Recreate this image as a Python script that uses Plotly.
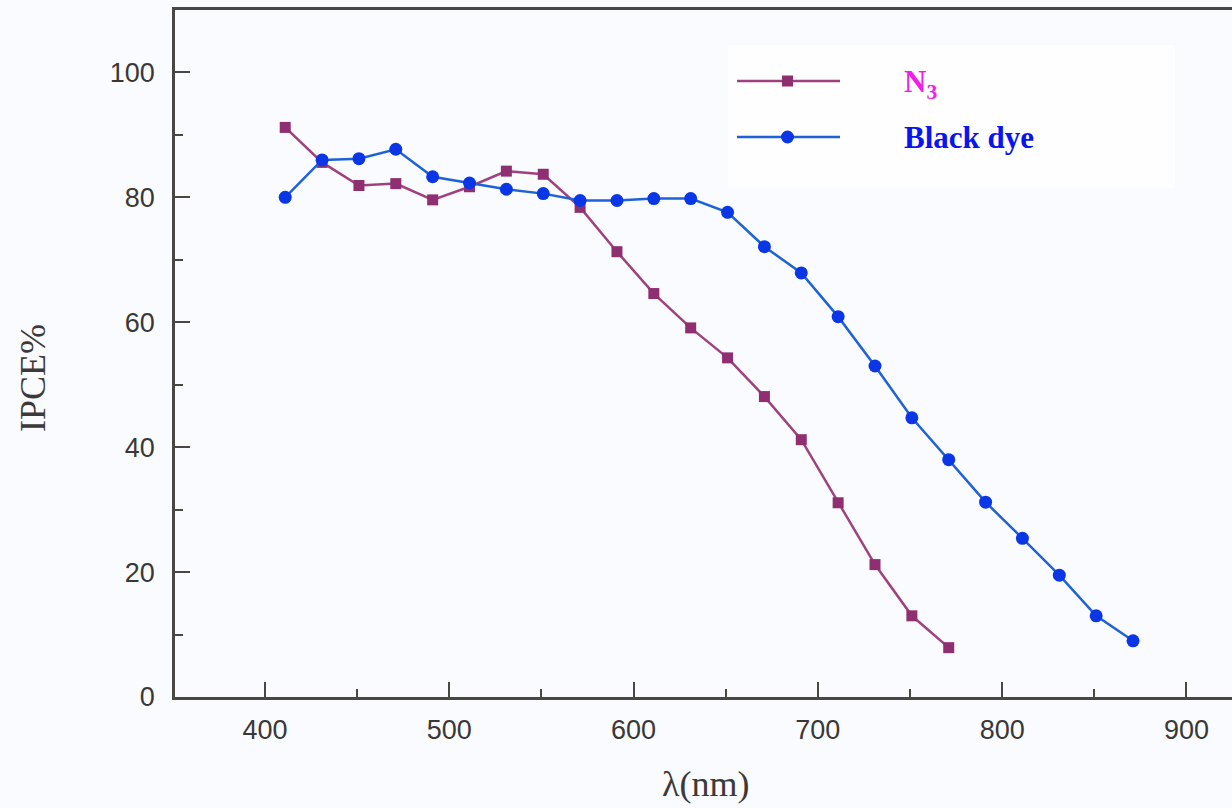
import plotly.graph_objects as go

# ---- data ----
wavelength_n3 = [411, 431, 451, 471, 491, 511, 531, 551, 571, 591, 611, 631, 651, 671, 691, 711, 731, 751, 771]
ipce_n3 = [91.2, 85.6, 81.9, 82.2, 79.6, 81.7, 84.2, 83.7, 78.4, 71.3, 64.6, 59.1, 54.3, 48.1, 41.2, 31.1, 21.2, 13.0, 7.9]

wavelength_bd = [411, 431, 451, 471, 491, 511, 531, 551, 571, 591, 611, 631, 651, 671, 691, 711, 731, 751, 771, 791, 811, 831, 851, 871]
ipce_bd = [80.0, 86.0, 86.2, 87.7, 83.3, 82.3, 81.3, 80.6, 79.5, 79.5, 79.8, 79.8, 77.6, 72.1, 67.9, 60.9, 53.0, 44.7, 38.0, 31.2, 25.4, 19.5, 13.0, 9.0]

x_ticks = [400, 500, 600, 700, 800, 900]
y_ticks = [0, 20, 40, 60, 80, 100]

# ---- style ----
W, H = 1232, 808
ML, MR, MT, MB = 175, 0, 10, 111
N3_LINE = "#a0417f"
N3_MARK = "#8f2f72"
BD_LINE = "#1f62d6"
BD_MARK = "#0a36e6"
AX = "#4a4642"
BG = "#f9fbfe"

def px(x):
    return (x - ML) / (W - ML - MR)

def py(y):
    return (H - MB - y) / (H - MT - MB)

fig = go.Figure()
fig.add_trace(go.Scatter(x=wavelength_n3, y=ipce_n3, mode="lines+markers",
                         line=dict(color=N3_LINE, width=2.5),
                         marker=dict(symbol="square", size=11, color=N3_MARK),
                         showlegend=False))
fig.add_trace(go.Scatter(x=wavelength_bd, y=ipce_bd, mode="lines+markers",
                         line=dict(color=BD_LINE, width=2.5),
                         marker=dict(symbol="circle", size=13, color=BD_MARK),
                         showlegend=False))

shapes = []
# legend background
shapes.append(dict(type="rect", xref="paper", yref="paper", x0=px(728), x1=px(1175), y0=py(188), y1=py(45),
                   fillcolor="#fefefe", line=dict(width=0), layer="below"))
# legend samples
shapes.append(dict(type="line", xref="paper", yref="paper", x0=px(737), x1=px(840), y0=py(81), y1=py(81),
                   line=dict(color=N3_LINE, width=2.5)))
shapes.append(dict(type="rect", xref="paper", yref="paper", x0=px(782), x1=px(793), y0=py(86.5), y1=py(75.5),
                   fillcolor=N3_MARK, line=dict(width=0)))
shapes.append(dict(type="line", xref="paper", yref="paper", x0=px(737), x1=px(840), y0=py(137), y1=py(137),
                   line=dict(color=BD_LINE, width=2.5)))
shapes.append(dict(type="circle", xref="paper", yref="paper", x0=px(781), x1=px(794), y0=py(143.5), y1=py(130.5),
                   fillcolor=BD_MARK, line=dict(width=0)))

annotations = [
    dict(text="<b>N<sub>3</sub></b>", xref="paper", yref="paper", x=px(902), y=py(84), xanchor="left", yanchor="middle",
         showarrow=False, font=dict(family="Liberation Serif", size=31, color="#f21ee8")),
    dict(text="<b>Black dye</b>", xref="paper", yref="paper", x=px(902), y=py(138), xanchor="left", yanchor="middle",
         showarrow=False, font=dict(family="Liberation Serif", size=31, color="#0a14f0")),
    dict(text="λ(nm)", xref="paper", yref="paper", x=px(705), y=py(784), xanchor="center", yanchor="middle",
         showarrow=False, font=dict(family="Liberation Serif", size=36, color="#3c3a38")),
    dict(text="IPCE%", xref="paper", yref="paper", x=px(33), y=py(378), xanchor="center", yanchor="middle",
         textangle=-90, showarrow=False, font=dict(family="Liberation Serif", size=36, color="#3c3a38")),
]

fig.update_layout(
    width=W, height=H,
    margin=dict(l=ML, r=MR, t=MT, b=MB),
    paper_bgcolor=BG, plot_bgcolor=BG,
    shapes=shapes, annotations=annotations,
    showlegend=False,
)
fig.update_xaxes(range=[351.2, 924.7], tickvals=x_ticks, ticks="inside", ticklen=15, tickwidth=2, tickcolor=AX,
                 minor=dict(ticks="inside", ticklen=8, tickwidth=2, tickcolor=AX, dtick=50, tick0=0),
                 showline=True, linecolor=AX, linewidth=2.5, mirror=True, showgrid=False, zeroline=False,
                 tickfont=dict(family="Liberation Sans", size=27, color="#3a3836"), ticklabelstandoff=7)
fig.update_yaxes(range=[0, 110], tickvals=y_ticks, ticks="inside", ticklen=15, tickwidth=2, tickcolor=AX,
                 minor=dict(ticks="inside", ticklen=8, tickwidth=2, tickcolor=AX, dtick=10, tick0=0),
                 showline=True, linecolor=AX, linewidth=2.5, showgrid=False, zeroline=False,
                 tickfont=dict(family="Liberation Sans", size=27, color="#3a3836"), ticklabelstandoff=12)

fig.write_html("out.html")
